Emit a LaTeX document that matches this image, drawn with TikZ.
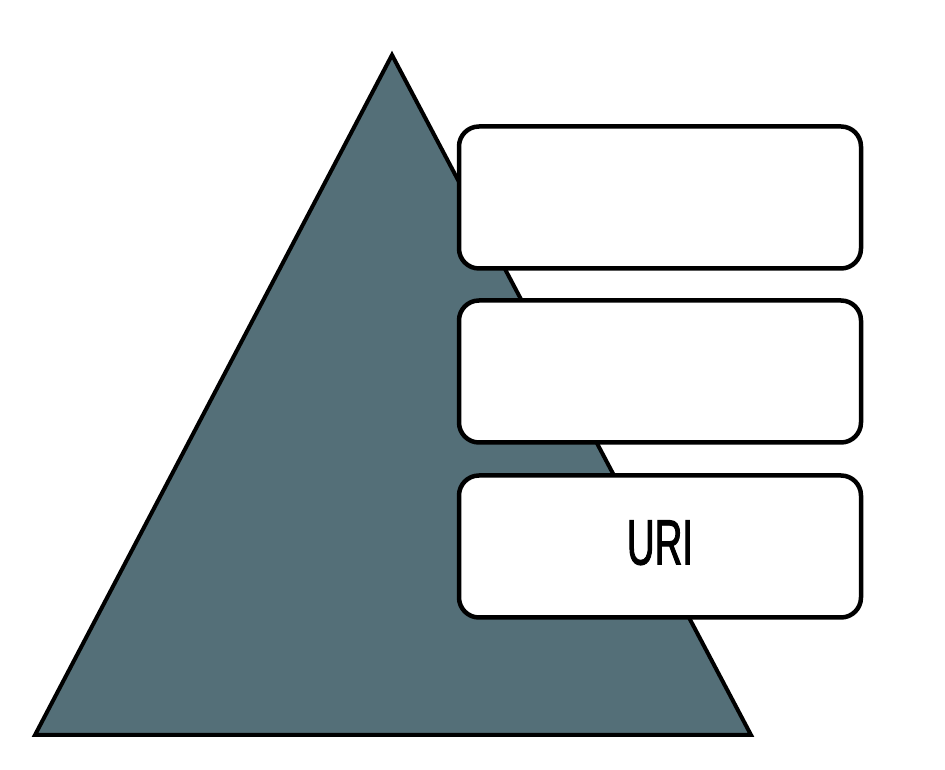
\documentclass[tikz,border=0pt]{standalone}
\usepackage{fontspec}
\newfontfamily\urifont[FakeStretch=0.6, FakeBold=1.5]{Liberation Sans}
\usetikzlibrary{positioning}
\definecolor{slate}{RGB}{84,111,120}

\begin{document}
\begin{tikzpicture}[x=1pt, y=1pt,
    layerbox/.style={draw=black, fill=white, line width=4.5pt, rounded corners=20pt,
      minimum width=402pt, minimum height=142pt, inner sep=0pt}]
  \useasboundingbox (0,0) rectangle (945,770);
  % Pyramid
  \draw[fill=slate, line width=4pt, line join=miter] (392,715) -- (751,35) -- (35,35) -- cycle;
  % Layers
  \node[layerbox] (toplayer) at (660,572.5) {};
  \node[layerbox, below=27.5pt of toplayer] (midlayer) {};
  \node[layerbox, below=28.5pt of midlayer] (urilayer) {\raisebox{8pt}{\urifont\fontsize{64}{64}\selectfont URI}};
\end{tikzpicture}
\end{document}
